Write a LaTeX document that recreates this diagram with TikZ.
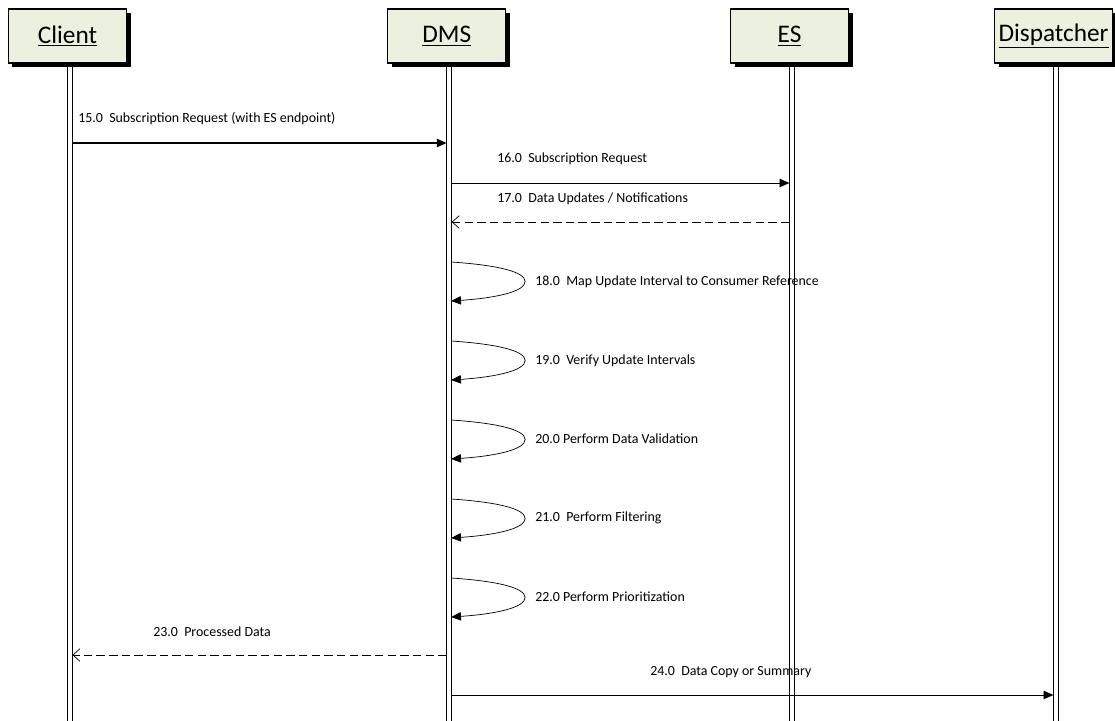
\documentclass[tikz,border=0pt]{standalone}
\usepackage{fontspec}
\setmainfont{Carlito}
\usepackage{tikz}
\usetikzlibrary{arrows.meta,positioning,shadows,backgrounds}
\usepackage{xcolor}
\definecolor{boxfill}{RGB}{235,241,222}

\begin{document}
\begin{tikzpicture}[
    x=0.025cm, y=-0.025cm,
    node distance=6.5cm,
    actor/.style={draw, rectangle, line width=0.8pt, fill=boxfill, inner sep=1pt, minimum width=2.95cm, minimum height=1.35cm, font=\fontsize{18}{22}\selectfont, drop shadow={shadow xshift=0.1cm, shadow yshift=-0.1cm, opacity=1, fill=black}},
    lifeline/.style={draw=black, double=white, line width=0.7pt, double distance=2.4pt},
    call/.style={-{Triangle[length=7pt,width=6pt]}, line width=0.6pt, shorten <=1.8pt, shorten >=1.8pt},
    reply/.style={-{Straight Barb[length=5pt,width=9pt]}, line width=0.5pt, dash pattern=on 6pt off 3pt, shorten <=1.8pt, shorten >=1.8pt},
    selfcall/.style={-{Triangle[length=7pt,width=6pt]}, line width=0.5pt},
    msgtext/.style={anchor=west, inner sep=0pt, font=\fontsize{9.9}{12}\selectfont}
  ]
    \useasboundingbox (0,0) rectangle (1115,721);

    \node (client) [actor] at (67.5,36) {\underline{Client}};
    \node (dms) [actor, right=6.5cm of client] {\underline{DMS}};
    \node (es) [actor, right=5.59cm of dms] {\underline{ES}};
    \node (disp) [actor, right=3.62cm of es] {\underline{Dispatcher}};

    % lifelines
    \path ([xshift=0.06cm]client.south) coordinate (clientTop);
    \path ([xshift=0.06cm]dms.south) coordinate (dmsTop);
    \path ([xshift=0.06cm]es.south) coordinate (esTop);
    \path ([xshift=0.06cm]disp.south) coordinate (dispTop);
    \begin{scope}[on background layer]
      \foreach \who in {client,dms,es,disp}
        \draw [lifeline] (\who Top) -- (\who Top |- 0,725);
    \end{scope}

    % message rows
    \coordinate (m15) at (0,143);
    \coordinate (m16) at (0,183);
    \coordinate (m17) at (0,222);
    \coordinate (m18) at (0,262);
    \coordinate (m19) at (0,341);
    \coordinate (m20) at (0,420);
    \coordinate (m21) at (0,499);
    \coordinate (m22) at (0,578);
    \coordinate (m23) at (0,655);
    \coordinate (m24) at (0,695);

    \draw [call, line width=0.9pt] (clientTop |- m15) -- (dmsTop |- m15);
    \draw [call] (dmsTop |- m16) -- (esTop |- m16);
    \draw [reply] (esTop |- m17) -- (dmsTop |- m17);
    \foreach \m in {m18,m19,m20,m21,m22}
      \draw [selfcall] ([xshift=0.05cm]dmsTop |- \m) .. controls +(45,3) and +(0,-10) .. ++(74,19.5) .. controls +(0,10) and +(45,-3) .. ++(-74,19.5);
    \draw [reply] (dmsTop |- m23) -- (clientTop |- m23);
    \draw [call] (dmsTop |- m24) -- (dispTop |- m24);

    \node (t15) [msgtext] at (78,119) {15.0\ \ Subscription Request (with ES endpoint)};
    \node (t16) [msgtext] at (497,159) {16.0\ \ Subscription Request};
    \node (t17) [msgtext] at (497,199) {17.0\ \ Data Updates / Notifications};
    \node (t18) [msgtext] at (535,282) {18.0\ \ Map Update Interval to Consumer Reference};
    \node (t19) [msgtext] at (535,361) {19.0\ \ Verify Update Intervals};
    \node (t20) [msgtext] at (535,439) {20.0 Perform Data Validation};
    \node (t21) [msgtext] at (535,518) {21.0\ \ Perform Filtering};
    \node (t22) [msgtext] at (535,597) {22.0 Perform Prioritization};
    \node (t23) [msgtext] at (153,632) {23.0\ \ Processed Data};
    \node (t24) [msgtext] at (650,672) {24.0\ \ Data Copy or Summary};
  \end{tikzpicture}
\end{document}
